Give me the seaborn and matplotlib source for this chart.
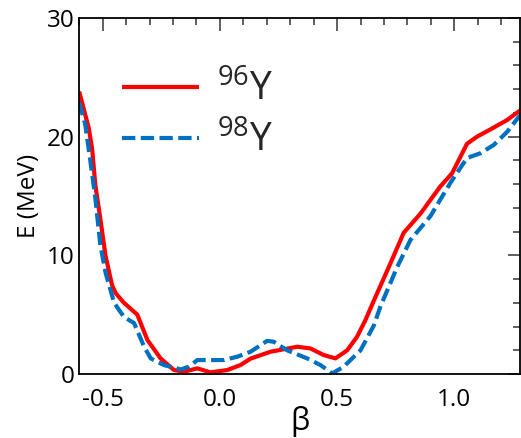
import numpy as np
import pandas as pd
import matplotlib
matplotlib.use("Agg")
import matplotlib.pyplot as plt
import seaborn as sns
from matplotlib.ticker import MultipleLocator

beta_96 = [-0.6, -0.559, -0.545, -0.531, -0.51, -0.488, -0.46, -0.444, -0.409, -0.352, -0.309,
           -0.253, -0.196, -0.153, -0.096, -0.04, 0.032, 0.088, 0.131, 0.216, 0.33, 0.386,
           0.443, 0.493, 0.543, 0.585, 0.621, 0.657, 0.727, 0.784, 0.855, 0.94, 0.99, 1.026,
           1.054, 1.097, 1.153, 1.225, 1.28]
E_96 = [23.8, 20.7, 19.0, 15.9, 13.1, 10.0, 7.5, 6.8, 6.0, 5.0, 2.87,
        1.32, 0.34, 0.2, 0.48, 0.14, 0.34, 0.76, 1.3, 1.88, 2.3, 2.16,
        1.6, 1.32, 2.0, 3.14, 4.55, 6.2, 9.3, 11.9, 13.5, 15.8, 16.9, 18.3,
        19.4, 20.0, 20.6, 21.4, 22.2]

beta_98 = [-0.6, -0.574, -0.552, -0.531, -0.51, -0.487, -0.451, -0.409, -0.366, -0.323, -0.295,
           -0.239, -0.167, -0.132, -0.096, -0.054, 0.017, 0.074, 0.131, 0.202, 0.23, 0.287,
           0.372, 0.429, 0.479, 0.528, 0.6, 0.657, 0.685, 0.756, 0.813, 0.898, 0.983, 1.054,
           1.111, 1.168, 1.225, 1.28]
E_98 = [22.9, 21.0, 17.9, 14.8, 10.9, 8.5, 6.0, 4.8, 4.3, 2.3, 1.32,
        0.76, 0.39, 0.62, 1.18, 1.18, 1.18, 1.46, 1.88, 2.8, 2.72, 2.0,
        1.32, 0.76, 0.05, 0.62, 2.0, 4.1, 5.7, 9.0, 11.3, 13.3, 16.1, 18.2,
        18.6, 19.3, 20.4, 21.8]

labels = [r"$^{96}$Y", r"$^{98}$Y"]

sns.set_theme(style="white")
plt.rcParams["font.family"] = ["Open Sans", "DejaVu Sans"]
plt.rcParams["mathtext.fontset"] = "custom"
plt.rcParams["mathtext.rm"] = "Open Sans"
plt.rcParams["mathtext.it"] = "Open Sans"

df96 = pd.DataFrame({"beta": beta_96, "E": E_96, "nuc": labels[0]})
df98 = pd.DataFrame({"beta": beta_98, "E": E_98, "nuc": labels[1]})

fig = plt.figure(figsize=(5.21, 4.38), dpi=100)
ax = fig.add_axes([0.152, 0.146, 0.846, 0.813])

sns.lineplot(data=df96, x="beta", y="E", ax=ax, color="#FF0000", lw=3.0, label=labels[0], sort=False,
             solid_joinstyle="round", solid_capstyle="butt")
sns.lineplot(data=df98, x="beta", y="E", ax=ax, color="#0070C0", lw=3.0, label=labels[1], sort=False,
             dash_joinstyle="round")
ax.lines[1].set_dashes([3.2, 1.3])

ax.set_xlim(-0.6, 1.28)
ax.set_ylim(0, 30)
ax.xaxis.set_minor_locator(MultipleLocator(0.1))
ax.yaxis.set_major_locator(MultipleLocator(10))
ax.yaxis.set_minor_locator(MultipleLocator(2))
ax.set_xticks([-0.5, 0.0, 0.5, 1.0])
ax.set_xticklabels(["-0.5", "0.0", "0.5", "1.0"])
ax.tick_params(which="both", direction="in", top=True, right=True, colors="#444444",
               labelcolor="black", labelsize=17.5, width=1.2)
ax.tick_params(which="major", length=9)
ax.tick_params(which="minor", length=5)
ax.tick_params(axis="x", pad=10)
for s in ax.spines.values():
    s.set_color("black")
    s.set_linewidth(1.3)

ax.set_xlabel("β", fontsize=22, labelpad=-4, color="black")
ax.set_ylabel("E (MeV)", fontsize=17.5, labelpad=4, color="black")

leg = ax.legend(loc="upper left", bbox_to_anchor=(0.017, 0.952), frameon=False, fontsize=28,
                handlelength=2.0, handletextpad=0.45, labelspacing=0.33)

fig.savefig("out.png", dpi=100)
